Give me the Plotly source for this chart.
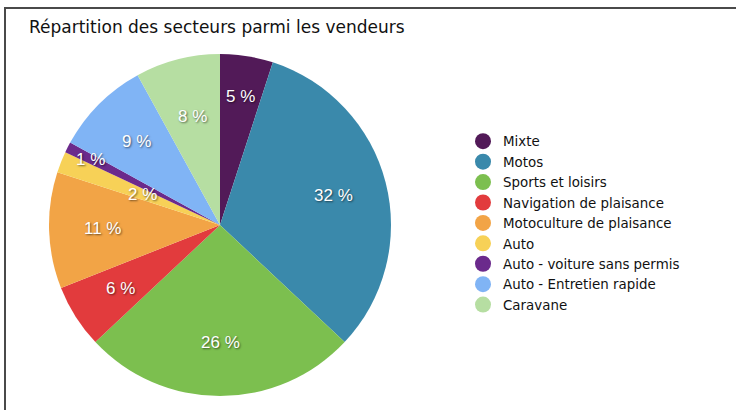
import math
import plotly.graph_objects as go

categories = ["Mixte", "Motos", "Sports et loisirs", "Navigation de plaisance",
              "Motoculture de plaisance", "Auto", "Auto - voiture sans permis",
              "Auto - Entretien rapide", "Caravane"]
values = [5, 32, 26, 6, 11, 2, 1, 9, 8]
labels_text = [f"{v} %" for v in values]
title_text = "Répartition des secteurs parmi les vendeurs"

# styling / layout (not data)
colors = ["#521a58", "#3a89ab", "#7cbf4f", "#e23b3d", "#f2a446",
          "#f7d157", "#6b2a8c", "#80b4f5", "#b6dea2"]
label_radius = [0.76, 0.685, 0.685, 0.69, 0.685, 0.485, 0.85, 0.69, 0.655]

W, H = 736, 410
cx, cy, r = 220, 225, 171

fig = go.Figure()
fig.add_trace(go.Pie(
    labels=categories, values=values, text=labels_text,
    textinfo="none", sort=False, direction="clockwise", rotation=0,
    marker=dict(colors=colors, line=dict(width=0)),
    showlegend=False, hoverinfo="label+percent",
    domain=dict(x=[(cx - r) / W, (cx + r) / W], y=[1 - (cy + r) / H, 1 - (cy - r) / H]),
))
for name, col in zip(categories, colors):
    fig.add_trace(go.Scatter(x=[None], y=[None], mode="markers", name=name,
                             marker=dict(symbol="circle", size=16, color=col)))

# slice labels placed at the middle angle of each slice
total = sum(values)
annotations = []
cum = 0
for v, t, f in zip(values, labels_text, label_radius):
    mid = (cum + v / 2) / total * 2 * math.pi
    cum += v
    px = cx + r * f * math.sin(mid)
    py = cy - r * f * math.cos(mid)
    annotations.append(dict(
        text=t, x=px / W, y=1 - py / H, xref="paper", yref="paper",
        showarrow=False, xanchor="center", yanchor="middle",
        font=dict(family="Liberation Sans, Arial, sans-serif", size=17, color="white",
                  shadow="1px 1px 2px rgba(0,0,0,0.55)"),
    ))

fig.update_layout(
    width=W, height=H, margin=dict(l=0, r=0, t=0, b=0),
    paper_bgcolor="white", plot_bgcolor="white",
    xaxis=dict(visible=False), yaxis=dict(visible=False),
    annotations=annotations,
    title=dict(text=title_text, x=29 / W, xanchor="left", y=1 - 27 / H, yanchor="middle",
               font=dict(family="DejaVu Sans, sans-serif", size=17, color="#111")),
    legend=dict(x=463 / W, xanchor="left", y=1 - 126 / H, yanchor="top",
                font=dict(family="DejaVu Sans, sans-serif", size=13.4, color="#111"),
                itemwidth=30, tracegroupgap=0, bgcolor="rgba(0,0,0,0)"),
    shapes=[
        dict(type="line", xref="paper", yref="paper", x0=4 / W, x1=1, y0=1 - 8 / H, y1=1 - 8 / H,
             line=dict(color="#4a4a4a", width=2)),
        dict(type="line", xref="paper", yref="paper", x0=5 / W, x1=5 / W, y0=0, y1=1 - 8 / H,
             line=dict(color="#4a4a4a", width=2)),
    ],
)
fig.write_html("out.html", config={"displayModeBar": False},
               post_script="document.body.style.margin='0';")
